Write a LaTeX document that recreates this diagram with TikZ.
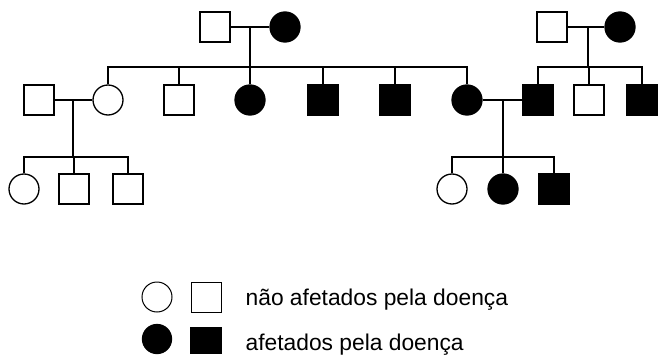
\documentclass[tikz,border=0pt]{standalone}
\usepackage{fontspec}
\setmainfont{Liberation Sans}
\usepackage{tikz}

\tikzset{
  male/.style={draw, rectangle, minimum size=30pt, inner sep=0pt},
  female/.style={draw, circle, minimum size=30pt, inner sep=0pt},
  aff/.style={fill=black},
  legtext/.style={anchor=base west, inner sep=0pt, font=\fontsize{22.8}{27}\selectfont}
}

\begin{document}
\begin{tikzpicture}[x=1pt, y=-1pt, line width=1.3pt]
  \useasboundingbox (0,0) rectangle (659,356);
  % generation I
  \node[male] (a1) at (215,27) {};
  \node[female, aff] (a2) at (285,27) {};
  \node[male] (b1) at (552,27) {};
  \node[female, aff] (b2) at (620,27) {};
  \coordinate (ma) at (250,27);
  \coordinate (mb) at (588,27);
  \coordinate (sa) at (250,67);
  \coordinate (sb) at (588,67);
  \draw (a1) -- (a2);
  \draw (b1) -- (b2);
  \draw (ma) -- (sa);
  \draw (mb) -- (sb);
  % generation II
  \node[male] (c0) at (39,100) {};
  \node[female] (c1) at (108,100) {};
  \node[male] (c2) at (179,100) {};
  \node[female, aff] (c3) at (250,100) {};
  \node[male, aff] (c4) at (323,100) {};
  \node[male, aff] (c5) at (395,100) {};
  \node[female, aff] (c6) at (467,100) {};
  \node[male, aff] (d1) at (538,100) {};
  \node[male] (d2) at (589,100) {};
  \node[male, aff] (d3) at (642,100) {};
  \draw (c1.north) |- (sa) -| (c6.north);
  \draw (c2.north) -- (c2.north |- sa);
  \draw (c3.north) -- (c3.north |- sa);
  \draw (c4.north) -- (c4.north |- sa);
  \draw (c5.north) -- (c5.north |- sa);
  \draw (d1.north) |- (sb) -| (d3.north);
  \draw (d2.north) -- (d2.north |- sb);
  \draw (c0) -- (c1);
  \draw (c6) -- (d1);
  \coordinate (mc) at (73,100);
  \coordinate (md) at (503,100);
  \coordinate (sc) at (73,157);
  \coordinate (sd) at (503,157);
  \draw (mc) -- (sc);
  \draw (md) -- (sd);
  % generation III
  \node[female] (e1) at (24,189) {};
  \node[male] (e2) at (74,189) {};
  \node[male] (e3) at (128,189) {};
  \node[female] (f1) at (452,189) {};
  \node[female, aff] (f2) at (503,189) {};
  \node[male, aff] (f3) at (554,189) {};
  \draw (e1.north) |- (sc) -| (e3.north);
  \draw (e2.north) -- (e2.north |- sc);
  \draw (f1.north) |- (sd) -| (f3.north);
  \draw (f2.north) -- (f2.north |- sd);
  % legend
  \node[female, line width=1pt] (l1) at (157,297) {};
  \node[male, line width=1pt] (l2) at (206,297) {};
  \node[female, aff, minimum size=29pt] (l3) at (157,339) {};
  \node[male, aff, minimum width=31pt, minimum height=25pt] (l4) at (206,340.5) {};
  \node[legtext] (t1) at (245,305) {não afetados pela doença};
  \node[legtext] (t2) at (245,350) {afetados pela doença};
\end{tikzpicture}
\end{document}
